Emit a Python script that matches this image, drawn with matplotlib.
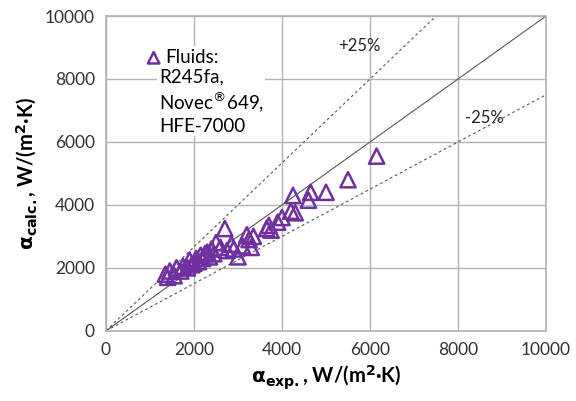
import matplotlib.pyplot as plt
import numpy as np

plt.rcParams['font.family'] = ['Lato', 'DejaVu Sans']
plt.rcParams['mathtext.fontset'] = 'dejavusans'

# experimental vs calculated heat transfer coefficient, W/(m2 K)
alpha_exp = [1350, 1400, 1450, 1550, 1600, 1700, 1750, 1850, 1900, 1950,
             2000, 2050, 2100, 2150, 2200, 2250, 2300, 2350, 2400, 2450,
             2500, 2600, 2700, 2750, 2850, 2900, 3000, 3100, 3200, 3250,
             3300, 3350, 3650, 3700, 3750, 3900, 4000, 4200, 4250, 4300,
             4600, 4650, 5000, 5500, 6150]
alpha_calc = [1800, 1700, 1900, 1750, 2000, 1900, 2050, 2000, 2250, 2100,
              2150, 2300, 2200, 2400, 2300, 2450, 2500, 2350, 2600, 2450,
              2800, 2650, 3250, 2550, 2750, 2600, 2350, 2700, 3050, 2900,
              2650, 3000, 3250, 3350, 3200, 3450, 3600, 3800, 4300, 3750,
              4150, 4400, 4400, 4800, 5550]

fluids = ['R245fa,', 'Novec$^{\u00ae}$649,', 'HFE-7000']
ticks = [0, 2000, 4000, 6000, 8000, 10000]
purple = '#7030A0'

fig = plt.figure(figsize=(5.76, 4.01), dpi=100)
ax = fig.add_axes([0.184, 0.175, 0.764, 0.785])

line_x = np.array([0, 10000])
ax.plot(line_x, line_x, color='#595959', lw=0.8, zorder=2)
ax.plot(line_x, line_x / 0.75, color='#595959', lw=0.8, ls=(0, (2.5, 2.5)), zorder=2)
ax.plot(line_x, line_x * 0.75, color='#595959', lw=0.8, ls=(0, (2.5, 2.5)), zorder=2)

ax.scatter(alpha_exp, alpha_calc, marker='^', s=120, facecolors='none',
           edgecolors=purple, linewidths=1.8, zorder=3, label='Fluids:')

ax.text(5750, 9050, '+25%', fontsize=12, ha='center', va='center', color='#222222')
ax.text(8600, 6750, '-25%', fontsize=12, ha='center', va='center', color='#222222')

ax.set_xlim(0, 10000)
ax.set_ylim(0, 10000)
ax.set_xticks(ticks)
ax.set_yticks(ticks)
ax.tick_params(length=0, labelsize=12.5, labelcolor='#333333', pad=8)
ax.grid(True, color='#b3b3b3', lw=1)
ax.set_axisbelow(True)
for s in ax.spines.values():
    s.set_color('#b3b3b3')
    s.set_linewidth(1.2)

ax.set_xlabel(r'$\mathbf{\alpha_{exp.}}$, W/(m$^\mathbf{2}$·K)', fontsize=14.5,
              fontweight='bold', labelpad=4)
ax.set_ylabel(r'$\mathbf{\alpha_{calc.}}$, W/(m$^\mathbf{2}$·K)', fontsize=14.5,
              fontweight='bold', labelpad=4)

leg = ax.legend(loc='upper left', bbox_to_anchor=(0.055, 0.935), fontsize=13.5,
                frameon=True, fancybox=False, edgecolor='none', framealpha=1,
                handletextpad=0.0, borderpad=0.15, markerscale=0.75,
                handlelength=1.2)
ax.text(0.12, 0.835, '\n'.join(fluids), transform=ax.transAxes, fontsize=13.5,
        ha='left', va='top', linespacing=1.25, zorder=4,
        bbox=dict(facecolor='white', edgecolor='none', pad=1))

fig.savefig('out.png', dpi=100)
